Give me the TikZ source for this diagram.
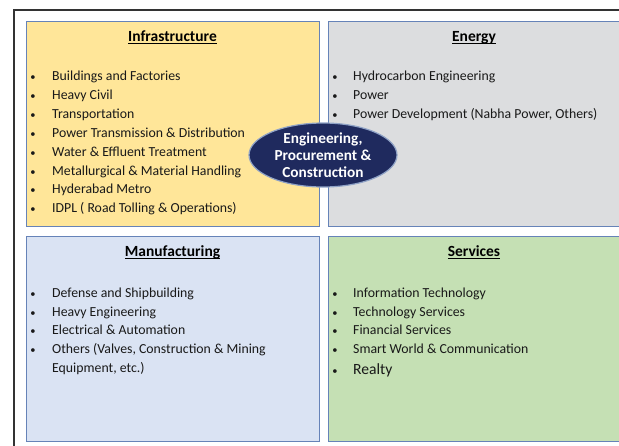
\documentclass[tikz,border=0pt]{standalone}
\usepackage{fontspec}
\setmainfont{Carlito}
\usetikzlibrary{shapes.geometric}
\definecolor{infra}{HTML}{FFE699}
\definecolor{energy}{HTML}{DCDDDF}
\definecolor{manuf}{HTML}{DAE3F3}
\definecolor{serv}{HTML}{C5E0B4}
\definecolor{boxline}{HTML}{6683B8}
\definecolor{ellfill}{HTML}{1F2A5E}
\definecolor{ellline}{HTML}{8FA2C6}
\definecolor{frameline}{HTML}{333333}
\newcommand\hdul[1]{\underline{\raisebox{0pt}[\height][0pt]{#1}}}
\begin{document}
\begin{tikzpicture}[x=1pt,y=-1pt,
  sector/.style={draw=boxline,line width=0.9pt},
  title/.style={anchor=base,font=\fontsize{15.5}{17}\selectfont\bfseries,inner sep=0pt},
  itemtext/.style={anchor=base west,font=\fontsize{13.8}{16}\selectfont,inner sep=0pt,text=black!90},
  bul/.style={anchor=base,font=\fontsize{10.5}{12}\selectfont,inner sep=0pt,text=black!90},
  hub/.style={ellipse,fill=ellfill,draw=ellline,line width=1.2pt,minimum width=148pt,minimum height=64pt,inner sep=0pt,text=white,font=\fontsize{15.3}{17}\selectfont\bfseries,align=center}]
\useasboundingbox (0,0) rectangle (619,445);
% outer frame
\coordinate (fTL) at (14,10);
\coordinate (fTR) at (622,10);
\coordinate (fBL) at (14,448);
\draw[frameline,line width=1.5pt] (fTR) -- (fTL) -- (fBL);
% sector boxes
\path[sector,fill=infra] (26,21) rectangle (319,226);
\path[sector,fill=energy] (328,21) rectangle (622,226);
\path[sector,fill=manuf] (26,236) rectangle (319,441);
\path[sector,fill=serv] (328,236) rectangle (622,441);
% titles
\node[title] (tInfra) at (172.5,41.5) {\hdul{Infrastructure}};
\node[title] (tEnergy) at (474,41.5) {\hdul{Energy}};
\node[title] (tManuf) at (172.5,256.5) {\hdul{Manufacturing}};
\node[title] (tServ) at (474,256.5) {\hdul{Services}};
% Infrastructure items
\foreach \t [count=\i] in {Buildings and Factories,Heavy Civil,Transportation,Power Transmission \& Distribution,Water \& Effluent Treatment,Metallurgical \& Material Handling,Hyderabad Metro,IDPL ( Road Tolling \& Operations)}{
  \node[bul] (bI\i) at (33,{80.5+(\i-1)*18.9}) {\textbullet};
  \node[itemtext] (iI\i) at (52,{80.5+(\i-1)*18.9}) {\t};
}
% Energy items
\foreach \t [count=\i] in {Hydrocarbon Engineering,Power,{Power Development (Nabha Power, Others)}}{
  \node[bul] (bE\i) at (335,{80.5+(\i-1)*19.2}) {\textbullet};
  \node[itemtext] (iE\i) at (353,{80.5+(\i-1)*19.2}) {\t};
}
% Manufacturing items
\foreach \t [count=\i] in {Defense and Shipbuilding,Heavy Engineering,Electrical \& Automation,{Others (Valves, Construction \& Mining}}{
  \node[bul] (bM\i) at (33,{297.5+(\i-1)*18.7}) {\textbullet};
  \node[itemtext] (iM\i) at (52,{297.5+(\i-1)*18.7}) {\t};
}
\node[itemtext] (iM5) at (52,372.5) {Equipment, etc.)};
% Services items
\foreach \t [count=\i] in {Information Technology,Technology Services,Financial Services,Smart World \& Communication}{
  \node[bul] (bS\i) at (335,{297.5+(\i-1)*18.7}) {\textbullet};
  \node[itemtext] (iS\i) at (353,{297.5+(\i-1)*18.7}) {\t};
}
\node[bul] (bS5) at (335,374.5) {\textbullet};
\node[itemtext,font=\fontsize{15.6}{18}\selectfont] (iS5) at (353,374.5) {Realty};
% hub
\node[hub] (hub) at (323,155) {Engineering,\\Procurement \&\\Construction};
\end{tikzpicture}
\end{document}
